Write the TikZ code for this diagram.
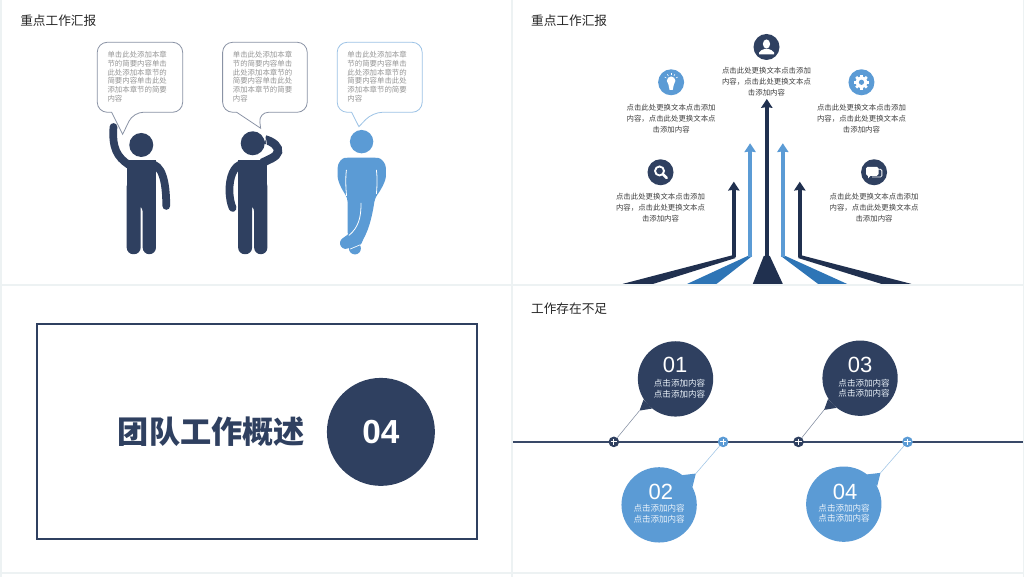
\documentclass[tikz,border=0pt]{standalone}
\usepackage{fontspec}
\usepackage{xcolor}
\setmainfont{Noto Sans CJK SC}
\newfontfamily\numfont{Liberation Sans}
\usetikzlibrary{calc}
\usetikzlibrary{arrows.meta}
\definecolor{navy2}{RGB}{47, 64, 96}
\definecolor{navy3}{RGB}{32, 48, 79}
\definecolor{sky2}{RGB}{91, 155, 213}
\definecolor{mid2}{RGB}{46, 117, 182}
\definecolor{grid2}{RGB}{237, 242, 243}
\definecolor{ink2}{RGB}{64, 64, 64}
\definecolor{soft2}{RGB}{150, 150, 150}
\definecolor{edge2}{RGB}{138, 147, 165}
\def\bubblelines{单击此处添加本章\\节的简要内容单击\\此处添加本章节的\\简要内容单击此处\\添加本章节的简要\\内容}
\def\arrowlines{点击此处更换文本点击添加\\内容，点击此处更换文本点\\击添加内容}
\def\disclines{点击添加内容\\点击添加内容}
\tikzset{
	panel/.style={fill=white, draw=none},
	pagetitle/.style={anchor=west, inner sep=0pt, text=black!85, font=\fontsize{9.5}{11}\selectfont},
	bubbletext/.style={anchor=north west, inner sep=0pt, align=left, text=soft2, font=\fontsize{5.56}{6.6}\selectfont},
	arrowtext/.style={inner sep=0pt, align=center, text=ink2, font=\fontsize{5.56}{8}\selectfont},
	disctext/.style={inner sep=0pt, align=center, text=white!88!sky2, font=\fontsize{6.4}{8}\selectfont},
	discnum/.style={inner sep=0pt, text=white, font=\numfont\fontsize{16.5}{18}\selectfont},
	icon/.style={circle, fill=#1, minimum size=19.5pt, inner sep=0pt},
	disc/.style={circle, fill=#1, minimum size=56.5pt, inner sep=0pt},
	plus/.style={circle, fill=#1, minimum size=8pt, inner sep=0pt},
	shaft/.style={line width=3.4pt, #1, -{Stealth[inset=0.5pt, length=6.6pt, width=8.4pt]}},
	limb/.style={line width=#1, line cap=round, draw=navy2},
}
\begin{document}
\begin{tikzpicture}[x=0.75pt, y=-0.75pt]
%Background and panels
\fill[grid2] (0,0) rectangle (1024,577);
\foreach \xa/\xb in {2/511, 513/1023} {
	\fill[panel] (\xa,0) rectangle (\xb,284);
	\fill[panel] (\xa,286) rectangle (\xb,572);
	\fill[panel] (\xa,574) rectangle (\xb,577);
}

%Titles
\node[pagetitle] (title1) at (20,20.7) {重点工作汇报};
\node[pagetitle] (title2) at (531,20.7) {重点工作汇报};
\node[pagetitle] (title4) at (531,309) {工作存在不足};

%Speech bubbles
\foreach \xl/\xr/\ta/\tb/\tx/\ty/\col/\n in {
	97.3/182.7/133.3/111.7/122.7/134.3/edge2/1,
	222.7/307.3/258.7/236.7/260.7/128.3/edge2/2,
	337.3/422.3/372.7/351.7/359/126.7/sky2!60/3} {
	\draw[\col, line width=0.6pt, rounded corners=7.5pt] (\xr-20,42.3) -- (\xr,42.3) -- (\xr,112.3) -- (\ta,112.3) [sharp corners] -- (\tx,\ty) -- (\tb,112.3) -- (\tb-2,112.3) [rounded corners=7.5pt] -- (\xl,112.3) -- (\xl,42.3) -- cycle;
	\node[bubbletext] (say\n) at (\xl+10,50.9) {\bubblelines};
}

%Standing figures
\foreach \dx/\hy in {0/145, 111.5/143.3} {
	\fill[navy2] (126.7+\dx,160) rectangle (156+\dx,200);
	\fill[navy2, rounded corners=5pt] (126.7+\dx,180) -- (156+\dx,180) -- (156+\dx,254.3) -- (142.7+\dx,254.3) -- (142.7+\dx,205) [sharp corners] -- (140.7+\dx,205) [rounded corners=5pt] -- (140.7+\dx,254.3) -- (126.7+\dx,254.3) -- cycle;
	\fill[navy2] (141.3+\dx,\hy) circle (12);
}
\draw[limb=5.8pt] (113.5,127) .. controls (112,148) and (117,157) .. (129,165);
\draw[limb=5.8pt] (150,164) .. controls (162,164) and (166.3,181) .. (166.3,206);
\draw[limb=5.8pt] (243,164) .. controls (233,165) and (229.5,179) .. (229.5,190) .. controls (229.5,198) and (231,204) .. (232.7,208);
\draw[limb=6.4pt, line cap=butt] (265,139.5) .. controls (274,142) and (279,147) .. (278,152) .. controls (277,157) and (268,160) .. (262,163);
\draw[white, line width=0.5pt] (252.8,143.3) ++(12,-6) arc (-30:35:12.5);

%Figure with crossed legs
\fill[sky2] (361.7,141.7) circle (11.7);
\fill[sky2, rounded corners=3pt] (349,157.7) .. controls (342,158) and (337.7,163) .. (337.7,172) .. controls (337.7,182) and (343,191) .. (347.7,198) -- (347.7,236) -- (352,245) -- (360,247) -- (364,238) .. controls (370,226) and (373,212) .. (375,198) .. controls (381,190) and (386,181) .. (386,172) .. controls (386,163) and (381,158) .. (374,157.7) -- cycle;
\fill[sky2] (355,248.5) circle (6);
\draw[sky2, line width=8.6pt, line cap=round] (345.8,243.2) -- (360,233);
\draw[white, line width=0.6pt] (346.5,170) .. controls (345.5,178) and (345.8,188) .. (346.7,196);
\draw[white, line width=0.6pt] (376.5,170) .. controls (377.5,178) and (377.2,186) .. (376.5,194);
\draw[white, line width=0.6pt] (361,203) .. controls (361.5,218) and (358,228) .. (349,235.5);
\draw[white, line width=0.5pt] (350,249.2) -- (360,245);

%Centre panel
\draw[navy2, line width=1.9pt] (37,324) rectangle (477,539);
\node[inner sep=0pt, text=navy2, font=\bfseries\fontsize{23.4}{26}\selectfont] (head3) at (211.5,432) {团队工作概述};
\node[disc=navy2, minimum size=81pt, text=white, font=\numfont\bfseries\fontsize{25}{28}\selectfont] (num3) at (381,432) {04};

%Rising arrows
\fill[navy3] (764,256) -- (770,256) -- (783,284) -- (753,284) -- cycle;
\fill[mid2] (748,256) -- (752.5,256) -- (716.7,284) -- (687.3,284) -- cycle;
\fill[mid2] (781,256) -- (785.5,256) -- (847.3,284) -- (818.3,284) -- cycle;
\fill[navy3] (732,255.5) -- (736,258) -- (653.3,284) -- (622.7,284) -- cycle;
\fill[navy3] (798,258) -- (802,255.5) -- (911.7,284) -- (881.7,284) -- cycle;
\foreach \n/\x/\y/\col in {a/734/181.7/navy3, b/750.3/143.3/sky2, c/767/99/navy3, d/783/143.3/sky2, e/800/181.7/navy3} {
	\coordinate (\n0) at (\x,257);
	\coordinate (\n1) at (\x,\y);
	\draw[shaft=\col] (\n0) to (\n1);
}

%Icons and their captions
\foreach \n/\x/\y/\col/\ty in {
	1/766.7/47/navy2/81.7,
	2/671.3/82.3/sky2/118.7,
	3/861.7/82.3/sky2/118.7,
	4/660.7/172.3/navy2/207.7,
	5/874.3/172.3/navy2/207.7} {
	\node[icon=\col] (icon\n) at (\x,\y) {};
	\node[arrowtext] (text\n) at (\x,\ty) {\arrowlines};
}
\begin{scope}[shift={(icon1.center)}]
	\fill[white] (0,-3) ellipse (3.6 and 4.6);
	\fill[white] (-7.5,7.5) -- (-7.5,5.5) .. controls (-7,3.5) and (-4,3) .. (-2,2) -- (2,2) .. controls (4,3) and (7,3.5) .. (7.5,5.5) -- (7.5,7.5) -- cycle;
\end{scope}
\begin{scope}[shift={(icon2.center)}]
	\fill[white] (0,-1.5) circle (4.3);
	\fill[white] (-3,1) -- (3,1) -- (1.6,7.5) -- (-1.6,7.5) -- cycle;
	\foreach \a in {-150,-120,-90,-60,-30} {
		\draw[white, line width=0.4pt] ($(0,-1.5)+(\a:5.5)$) -- ($(0,-1.5)+(\a:7.5)$);
	}
\end{scope}
\begin{scope}[shift={(icon3.center)}]
	\foreach \a in {0,45,...,315} {
		\draw[white, line width=2pt, rotate=\a] (0,0) -- (7.5,0);
	}
	\fill[white] (0,0) circle (5.8);
	\fill[sky2] (0,0) circle (2.6);
\end{scope}
\begin{scope}[shift={(icon4.center)}]
	\draw[white, line width=1.4pt] (-1,-1.3) circle (4.5);
	\draw[white, line width=2pt, line cap=round] (2.4,2) -- (6.2,5.8);
\end{scope}
\begin{scope}[shift={(icon5.center)}]
	\draw[white, line width=0.6pt, rounded corners=1pt] (4,-3) -- (7.8,-3) -- (7.8,4.8) -- (-2,4.8);
	\fill[white, rounded corners=1.2pt] (-8,-5.5) rectangle (4.5,3.5);
	\fill[white] (-6,3) -- (-6,6) -- (-3,3) -- cycle;
\end{scope}

%Timeline
\coordinate (l0) at (513,442);
\coordinate (l1) at (1023,442);
\draw[navy2!95!white, line width=1.9pt] (l0) to (l1);
\foreach \n/\x/\col/\cx/\cy/\ax/\ay/\bx/\by/\tx/\ty/\nx/\ny/\lx/\ly/\num in {
	1/614/navy2/675.7/379/-32/20.7/-23.7/29.7/-36/31.7/675.3/365.3/679.7/389/01,
	2/723.3/sky2/659.3/505/22.7/-29.7/33.4/-18/36.7/-31.3/661/492.3/659.3/514/02,
	3/798.7/navy2/860.3/378.3/-32/20.7/-23.7/29.7/-36/31.7/860.3/364.7/864.3/388.4/03,
	4/907.7/sky2/844/504.3/22.7/-29.7/33.4/-18/36.7/-31.3/845.3/492/844.3/513.4/04} {
	\node[disc=\col] (disc\n) at (\cx,\cy) {};
	\coordinate (tip\n) at ($(disc\n.center)+(\tx,\ty)$);
	\fill[\col] ($(disc\n.center)+(\ax,\ay)$) -- (tip\n) -- ($(disc\n.center)+(\bx,\by)$) -- cycle;
	\node[plus=\col] (plus\n) at (\x,442) {};
	\draw[\col!60!white, line width=0.4pt] (tip\n) to (plus\n);
	\draw[white, line width=0.9pt] ($(plus\n)+(-3.2,0)$) -- ($(plus\n)+(3.2,0)$);
	\draw[white, line width=0.9pt] ($(plus\n)+(0,-3.2)$) -- ($(plus\n)+(0,3.2)$);
	\node[discnum] (num\n) at (\nx,\ny) {\num};
	\node[disctext] (label\n) at (\lx,\ly) {\disclines};
}
\end{tikzpicture}
\end{document}
